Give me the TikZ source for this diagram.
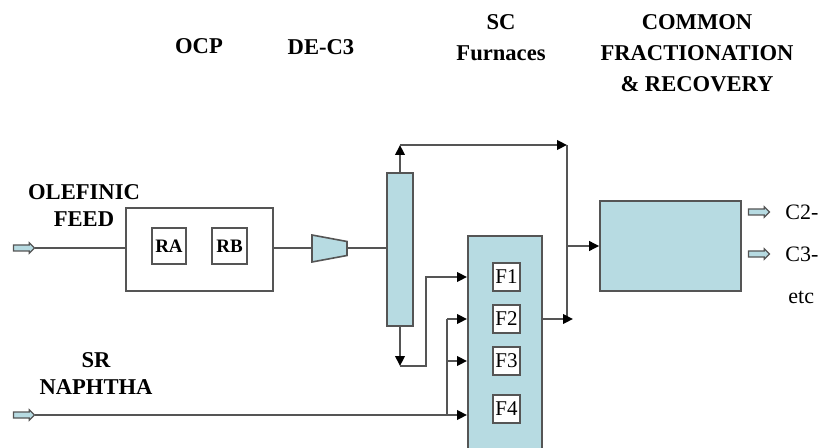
\documentclass[tikz,border=0pt]{standalone}
\usepackage{fontspec}
\setmainfont{Liberation Serif}
\usepackage{xcolor}
\usepackage{tikz}
\usetikzlibrary{arrows.meta, positioning, shapes.arrows}
\definecolor{unitblue}{RGB}{183,219,226}
\definecolor{linegray}{RGB}{85,85,85}

\begin{document}
\begin{tikzpicture}[x=0.5pt, y=-0.5pt,
    pipe/.style={draw=linegray, line width=0.85pt},
    flow/.style={pipe, -{Triangle[length=5pt,width=4.8pt,black]}},
    unit/.style={draw=linegray, line width=0.8pt, fill=unitblue, inner sep=0pt},
    plainbox/.style={draw=linegray, line width=0.8pt, fill=white, inner sep=0pt},
    heading/.style={font=\fontsize{11.3}{15.5}\selectfont\bfseries, align=center, inner sep=0pt},
    feedlabel/.style={font=\fontsize{11.3}{13.5}\selectfont\bfseries, align=center, inner sep=0pt},
    product/.style={font=\fontsize{11}{13}\selectfont, anchor=west, inner sep=0pt},
    stream/.style={single arrow, draw=linegray, line width=0.6pt, fill=unitblue,
      minimum height=10.5pt, inner sep=1.2pt, single arrow head extend=1.1pt}]
  \clip (0,0) rectangle (822,448);

  % Headings
  \node[heading] (h-ocp) at (199,46) {OCP};
  \node[heading] (h-dec3) at (321,47) {DE-C3};
  \node[heading] (h-sc) at (501,38) {SC\\Furnaces};
  \node[heading] (h-common) at (697,53) {COMMON\\FRACTIONATION\\\& RECOVERY};

  % Feeds
  \node[feedlabel] (l-feed) at (84,206) {OLEFINIC\\FEED};
  \node[feedlabel] (l-naph) at (96,374) {SR\\NAPHTHA};
  \node[stream] (feed) at (22.5,248) {};
  \node[stream] (naph) at (22.5,415) {};

  % OCP reactors
  \node[plainbox, minimum width=73.5pt, minimum height=41.5pt] (ocp) at (199.5,249.5) {};
  \node[plainbox, minimum width=17pt, minimum height=18pt,
    font=\fontsize{9.5}{11}\selectfont\bfseries] (ra) at (169,246) {RA};
  \node[plainbox, minimum width=17.5pt, minimum height=18pt,
    font=\fontsize{9.5}{11}\selectfont\bfseries] (rb) at (229.5,246) {RB};

  % Compressor and DE-C3 column
  \draw[unit] (312,235) -- (347,241.5) -- (347,255.5) -- (312,262) -- cycle;
  \coordinate (comp-in) at (312,248);
  \coordinate (comp-out) at (347,248);
  \node[unit, minimum width=13pt, minimum height=76.5pt] (col) at (400,249.5) {};

  % SC furnaces
  \node[unit, minimum width=37pt, minimum height=110pt, anchor=north west] (fur) at (467,235) {};
  \foreach \n/\y in {1/277, 2/319, 3/361, 4/409}
    \node[plainbox, minimum width=13.5pt, minimum height=14pt,
      font=\fontsize{10.5}{12}\selectfont] (f\n) at (506.5,\y) {F\n};

  % Common fractionation
  \node[unit, minimum width=70.5pt, minimum height=45pt] (frac) at (670.5,246) {};
  \node[stream] (c2) at (757.5,212) {};
  \node[stream] (c3) at (757.5,254) {};
  \node[product] (t-c2) at (785,212) {C2-};
  \node[product] (t-c3) at (785,254) {C3-};
  \node[product] (t-etc) at (788,297) {etc};

  % Olefinic feed line
  \draw[pipe] (feed.east) -- (feed.east -| ocp.west);
  \draw[pipe] (ocp.east |- comp-in) -- (comp-in);
  \draw[pipe] (comp-out) -- (comp-out -| col.west);

  % Column overhead
  \coordinate (top) at (400,145);
  \coordinate (riser) at (567,145);
  \coordinate (riser-end) at (567,319);
  \draw[flow] (col.north) -- (top);
  \draw[flow] (top) -- (riser);
  \draw[pipe] (riser) -- (riser-end);
  \draw[flow] (riser |- frac.west) -- (frac.west);
  \coordinate (mix) at (573,319);
  \draw[flow] (fur.east |- f2) -- (mix);

  % Column bottoms to F1
  \coordinate (bot) at (400,366);
  \draw[flow] (col.south) -- (bot);
  \draw[flow] (bot) -- (426,366) |- (fur.west |- f1);

  % Naphtha header
  \coordinate (hdr) at (447,415);
  \draw[flow] (naph.east) -- (naph.east -| fur.west);
  \draw[pipe] (hdr) -- (hdr |- f2);
  \draw[flow] (hdr |- f2) -- (fur.west |- f2);
  \draw[flow] (hdr |- f3) -- (fur.west |- f3);
\end{tikzpicture}
\end{document}
